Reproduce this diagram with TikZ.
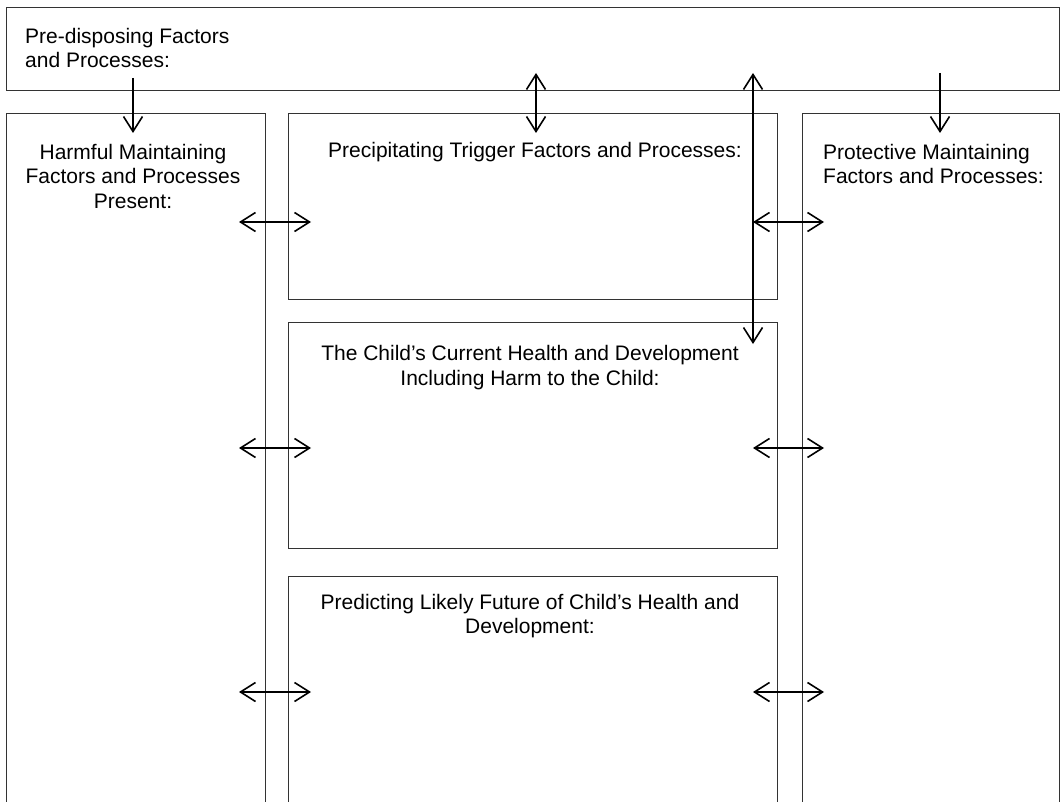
\documentclass[tikz,border=0pt]{standalone}
\usepackage{fontspec}
\setmainfont{Liberation Sans}
\usetikzlibrary{arrows.meta,calc}
\begin{document}
\begin{tikzpicture}[x=1pt,y=-1pt,
  panel/.style={draw=black!80, line width=1pt, inner sep=0pt, anchor=north west},
  caption/.style={inner sep=0pt, font=\fontsize{21}{24.5}\selectfont},
  barb/.tip={Straight Barb[length=15pt,width=19pt]},
  link/.style={line width=1.6pt, -barb},
  dlink/.style={line width=1.6pt, barb-barb}]
\useasboundingbox (0,0) rectangle (1060,802);
\clip (0,0) rectangle (1060,802);

% panels
\node[panel, minimum width=1053pt, minimum height=83pt]  (pre)  at (6,7) {};
\node[panel, minimum width=259pt,  minimum height=720pt] (harm) at (6,113) {};
\node[panel, minimum width=489pt,  minimum height=186pt] (prec) at (288,113) {};
\node[panel, minimum width=489pt,  minimum height=226.5pt] (curr) at (288,321.5) {};
\node[panel, minimum width=489pt,  minimum height=260pt] (pred) at (288,576) {};
\node[panel, minimum width=257.5pt, minimum height=720pt] (prot) at (801.5,113) {};

% headings
\node[caption, anchor=north west, align=left] (preT) at (25,28)
  {Pre-disposing Factors\\and Processes:};
\node[caption, anchor=north, align=center] (harmT) at (133,143.7)
  {Harmful Maintaining\\Factors and Processes\\Present:};
\node[caption, anchor=north] (precT) at (535,141.7)
  {Precipitating Trigger Factors and Processes:};
\node[caption, anchor=north west, align=left] (protT) at (823,143.7)
  {Protective Maintaining\\Factors and Processes:};
\node[caption, anchor=north, align=center] (currT) at (530,345.3)
  {The Child’s Current Health and Development\\Including Harm to the Child:};
\node[caption, anchor=north, align=center] (predT) at (530,593.7)
  {Predicting Likely Future of Child’s Health and\\Development:};

% vertical links from the pre-disposing panel
\coordinate (v1s) at (133,78);   \coordinate (v1e) at (133,133);
\coordinate (v2s) at (536,73);   \coordinate (v2e) at (536,133);
\coordinate (v3s) at (753,73);   \coordinate (v3e) at (753,344);
\coordinate (v4s) at (940,73);   \coordinate (v4e) at (940,133);
\draw[link]  (v1s) -- (v1e);
\draw[dlink] (v2s) -- (v2e);
\draw[dlink] (v3s) -- (v3e);
\draw[link]  (v4s) -- (v4e);

% horizontal links between the side columns and the centre panels
\foreach \r/\yy in {a/222, b/448, c/692} {
  \coordinate (l\r s) at (239,\yy);   \coordinate (l\r e) at (311,\yy);
  \coordinate (r\r s) at (753,\yy);   \coordinate (r\r e) at (824,\yy);
  \draw[dlink] (l\r s) -- (l\r e);
  \draw[dlink] (r\r s) -- (r\r e);
}
\end{tikzpicture}
\end{document}
